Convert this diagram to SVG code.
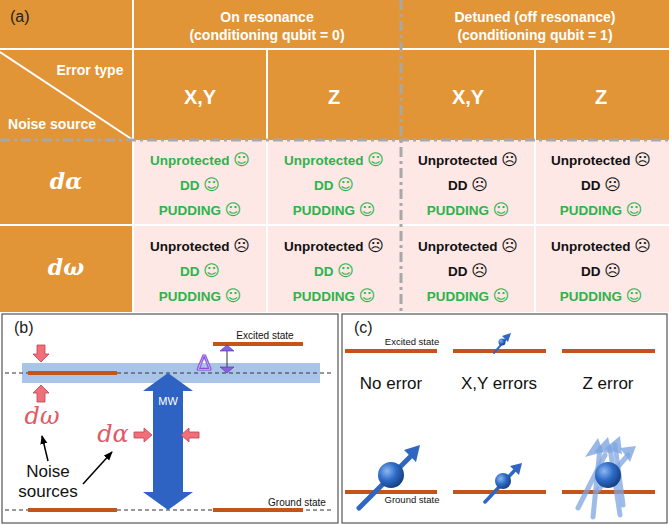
<svg xmlns="http://www.w3.org/2000/svg" width="669" height="525" viewBox="0 0 669 525">
<style>
.h{font-family:"Liberation Sans",Arial,sans-serif;font-weight:bold;fill:#fff;text-anchor:middle}
.c{font-family:"Liberation Sans",Arial,sans-serif;font-weight:bold;font-size:13.5px;text-anchor:middle}
.g{fill:#2DB34A}.k{fill:#111}
.e{font-family:"DejaVu Sans",sans-serif;font-weight:normal;font-size:16px}
.m{font-family:"DejaVu Serif",serif;font-style:italic;font-weight:bold;font-size:22px;fill:#fff;text-anchor:middle}
.t{font-family:"Liberation Sans",Arial,sans-serif;fill:#111}
.lv{stroke:#C5541A;stroke-width:4}
.pk{fill:#F0707A;stroke:#C04050;stroke-width:0.8}
</style>
<defs>
<marker id="ah" viewBox="0 0 10 10" refX="9" refY="5" markerWidth="6" markerHeight="6" orient="auto"><path d="M0,1 L10,5 L0,9 z" fill="#000"/></marker>
<radialGradient id="sp" cx="0.35" cy="0.35" r="0.7"><stop offset="0" stop-color="#8CB8F0"/><stop offset="0.5" stop-color="#2F6CC8"/><stop offset="1" stop-color="#143E80"/></radialGradient>
</defs>
<rect width="669" height="525" fill="#fff"/>
<g id="table">
<rect x="0" y="0" width="669" height="312" fill="#E19537"/>
<rect x="133" y="140" width="536" height="172" fill="#FDE8E6"/>
<g stroke="#fff" stroke-width="2" fill="none">
<line x1="133" y1="0" x2="133" y2="312"/>
<line x1="0" y1="49" x2="669" y2="49"/>
<line x1="267" y1="49" x2="267" y2="312"/>
<line x1="535" y1="49" x2="535" y2="312"/>
<line x1="0" y1="225" x2="669" y2="225"/>
<line x1="0" y1="52" x2="133" y2="140"/>
</g>
<line x1="401" y1="0" x2="401" y2="312" stroke="#A8A8A8" stroke-width="3" stroke-dasharray="10,4,3,4"/>
<line x1="0" y1="140" x2="669" y2="140" stroke="#A8A8A8" stroke-width="3" stroke-dasharray="10,4,3,4"/>
<text x="10" y="22" font-family="Liberation Sans,Arial,sans-serif" font-size="16" fill="#222">(a)</text>
<text class="h" x="267" y="22" font-size="14">On resonance</text>
<text class="h" x="267" y="40" font-size="14">(conditioning qubit = 0)</text>
<text class="h" x="535" y="22" font-size="14">Detuned (off resonance)</text>
<text class="h" x="535" y="40" font-size="14">(conditioning qubit = 1)</text>
<text class="h" x="90" y="75" font-size="14">Error type</text>
<text class="h" x="52" y="129" font-size="14">Noise source</text>
<text class="h" x="200" y="104" font-size="20">X,Y</text>
<text class="h" x="334" y="104" font-size="20">Z</text>
<text class="h" x="468" y="104" font-size="20">X,Y</text>
<text class="h" x="601" y="104" font-size="20">Z</text>
<text class="m" x="66" y="189">dα</text>
<text class="m" x="66" y="275">dω</text>
<g class="c">
<text class="g" x="200" y="165">Unprotected <tspan class="e">☺</tspan></text><text class="g" x="200" y="190">DD <tspan class="e">☺</tspan></text><text class="g" x="200" y="215">PUDDING <tspan class="e">☺</tspan></text>
<text class="g" x="334" y="165">Unprotected <tspan class="e">☺</tspan></text><text class="g" x="334" y="190">DD <tspan class="e">☺</tspan></text><text class="g" x="334" y="215">PUDDING <tspan class="e">☺</tspan></text>
<text class="k" x="468" y="165">Unprotected <tspan class="e">☹</tspan></text><text class="k" x="468" y="190">DD <tspan class="e">☹</tspan></text><text class="g" x="468" y="215">PUDDING <tspan class="e">☺</tspan></text>
<text class="k" x="601" y="165">Unprotected <tspan class="e">☹</tspan></text><text class="k" x="601" y="190">DD <tspan class="e">☹</tspan></text><text class="g" x="601" y="215">PUDDING <tspan class="e">☺</tspan></text>
<text class="k" x="200" y="251">Unprotected <tspan class="e">☹</tspan></text><text class="g" x="200" y="276">DD <tspan class="e">☺</tspan></text><text class="g" x="200" y="301">PUDDING <tspan class="e">☺</tspan></text>
<text class="k" x="334" y="251">Unprotected <tspan class="e">☹</tspan></text><text class="g" x="334" y="276">DD <tspan class="e">☺</tspan></text><text class="g" x="334" y="301">PUDDING <tspan class="e">☺</tspan></text>
<text class="k" x="468" y="251">Unprotected <tspan class="e">☹</tspan></text><text class="k" x="468" y="276">DD <tspan class="e">☹</tspan></text><text class="g" x="468" y="301">PUDDING <tspan class="e">☺</tspan></text>
<text class="k" x="601" y="251">Unprotected <tspan class="e">☹</tspan></text><text class="k" x="601" y="276">DD <tspan class="e">☹</tspan></text><text class="g" x="601" y="301">PUDDING <tspan class="e">☺</tspan></text>
</g>
</g>
<g id="panel-b">
<rect x="2" y="314" width="336" height="209" fill="#fff" stroke="#555" stroke-width="1.2"/>
<text x="14" y="333" font-family="Liberation Sans,Arial,sans-serif" font-size="16" fill="#222">(b)</text>
<rect x="22" y="363" width="298" height="20" fill="#A8C4E8"/>
<line x1="5" y1="373" x2="333" y2="373" stroke="#333" stroke-dasharray="4,3"/>
<line x1="5" y1="510" x2="333" y2="510" stroke="#333" stroke-dasharray="4,3"/>
<line class="lv" x1="28" y1="373" x2="117" y2="373"/>
<line class="lv" x1="213" y1="344" x2="303" y2="344"/>
<line class="lv" x1="28" y1="510" x2="117" y2="510"/>
<line class="lv" x1="213" y1="510" x2="303" y2="510"/>
<text class="t" x="265" y="339" font-size="10" text-anchor="middle">Excited state</text>
<text class="t" x="297" y="506" font-size="10" text-anchor="middle">Ground state</text>
<path d="M168,373 L193,391 L183,391 L183,492 L193,492 L168,510 L143,492 L153,492 L153,391 L143,391 Z" fill="#2E63C4"/>
<text x="168" y="405" font-family="Liberation Sans,Arial,sans-serif" font-size="11" fill="#fff" text-anchor="middle">MW</text>
<text x="204" y="370" font-family="Liberation Sans,Arial,sans-serif" font-size="22" fill="#fff" stroke="#8A4FE0" stroke-width="1.2" text-anchor="middle">Δ</text>
<line x1="227" y1="349" x2="227" y2="368" stroke="#333"/>
<path d="M220,351 L227,345 L234,351 Z M220,367 L227,373 L234,367 Z" fill="#8A5FE0" stroke="#5030A0" stroke-width="0.6"/>
<path class="pk" d="M37,345 L45,345 L45,354 L49,354 L41,362 L33,354 L37,354 Z"/>
<path class="pk" d="M37,402 L45,402 L45,393 L49,393 L41,385 L33,393 L37,393 Z"/>
<path class="pk" d="M134,432 L144,432 L144,428 L152,435 L144,442 L144,438 L134,438 Z"/>
<path class="pk" d="M199,432 L189,432 L189,428 L181,435 L189,442 L189,438 L199,438 Z"/>
<text x="42" y="424" font-family="DejaVu Serif,serif" font-style="italic" font-size="24" fill="#E05A66" text-anchor="middle">dω</text>
<text x="113" y="442" font-family="DejaVu Serif,serif" font-style="italic" font-size="24" fill="#E05A66" text-anchor="middle">dα</text>
<text class="t" x="48" y="477" font-size="17" text-anchor="middle">Noise</text>
<text class="t" x="48" y="497" font-size="17" text-anchor="middle">sources</text>
<g stroke="#000" stroke-width="1.5" marker-end="url(#ah)">
<line x1="48" y1="461" x2="42" y2="436"/>
<line x1="83" y1="484" x2="112" y2="452"/>
</g>
</g>
<g id="panel-c">
<rect x="342" y="314" width="325" height="209" fill="#fff" stroke="#555" stroke-width="1.2"/>
<text x="354" y="333" font-family="Liberation Sans,Arial,sans-serif" font-size="16" fill="#222">(c)</text>
<line class="lv" x1="345" y1="351" x2="437" y2="351" stroke-width="2"/>
<line class="lv" x1="453" y1="351" x2="546" y2="351" stroke-width="2"/>
<line class="lv" x1="562" y1="351" x2="655" y2="351" stroke-width="2"/>
<line class="lv" x1="345" y1="492" x2="437" y2="492" stroke-width="2"/>
<line class="lv" x1="453" y1="492" x2="546" y2="492" stroke-width="2"/>
<line class="lv" x1="562" y1="492" x2="655" y2="492" stroke-width="2"/>
<text class="t" x="412" y="345" font-size="9.5" text-anchor="middle">Excited state</text>
<text class="t" x="412" y="503" font-size="9.5" text-anchor="middle">Ground state</text>
<text class="t" x="391" y="389" font-size="17" text-anchor="middle">No error</text>
<text class="t" x="499" y="389" font-size="17" text-anchor="middle">X,Y errors</text>
<text class="t" x="608" y="389" font-size="17" text-anchor="middle">Z error</text>
<g stroke="#2F66C0" stroke-linecap="round">
<line x1="359" y1="508" x2="412" y2="455" stroke-width="5"/>
<line x1="485" y1="502" x2="515" y2="470" stroke-width="3.5"/>
<line x1="494" y1="353" x2="506" y2="339" stroke-width="2"/>
</g>
<path d="M420,445 L404,450 L410,456 L416,462 Z" fill="#2F66C0"/>
<path d="M522,463 L510,466 L514,470 L519,475 Z" fill="#2F66C0"/>
<path d="M511,333 L502,336 L505,339 L508,342 Z" fill="#2F66C0"/>
<circle cx="391" cy="475" r="13" fill="url(#sp)"/>
<circle cx="503" cy="481" r="8" fill="url(#sp)"/>
<circle cx="502" cy="342" r="3.5" fill="url(#sp)"/>
<g stroke="#7FA6E0" stroke-opacity="0.75" stroke-width="5" stroke-linecap="round">
<line x1="578" y1="508" x2="605" y2="455"/>
<line x1="593" y1="517" x2="600" y2="448"/>
<line x1="620" y1="515" x2="610" y2="448"/>
<line x1="623" y1="505" x2="615" y2="445"/>
<line x1="598" y1="490" x2="628" y2="455"/>
</g>
<g fill="#7FA6E0" fill-opacity="0.8">
<path d="M598,438 L585,457 L603,452 Z"/>
<path d="M608,437 L594,452 L612,453 Z"/>
<path d="M620,436 L604,449 L622,454 Z"/>
<path d="M636,446 L620,448 L630,462 Z"/>
</g>
<circle cx="608" cy="475" r="13" fill="url(#sp)"/>
</g>
</svg>
